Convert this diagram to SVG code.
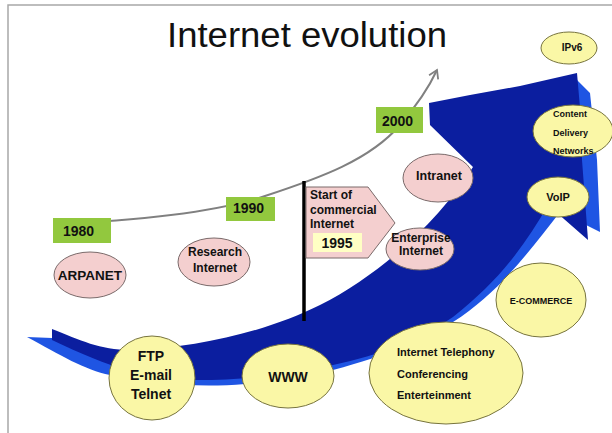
<svg xmlns="http://www.w3.org/2000/svg" width="612" height="433" viewBox="0 0 612 433">
<defs>
<style>
.t{font-family:"Liberation Sans",Arial,sans-serif;font-weight:bold;fill:#111}
.pink{fill:#F4CFCF;stroke:#7A6A6A;stroke-width:1}
.yel{fill:#FAF7A6;stroke:#77743E;stroke-width:1}
.grn{fill:#92C83E}
.m{text-anchor:middle}
</style>
<marker id="ah" markerWidth="12" markerHeight="12" refX="9" refY="6" orient="auto" markerUnits="userSpaceOnUse">
<path d="M1,1 L9,6 L1,11" fill="none" stroke="#808080" stroke-width="1.8"/>
</marker>
</defs>
<rect width="612" height="433" fill="#fff"/>
<path d="M8,433 L8,5 L612,5" fill="none" stroke="#A8A8A8" stroke-width="1.5"/>
<text x="167" y="47" font-family="Liberation Sans,Arial,sans-serif" font-size="35" textLength="280" lengthAdjust="spacingAndGlyphs" fill="#111">Internet evolution</text>

<g id="big-arrow">
<path d="M27,337 C60,355 85,370 110,375 C150,384 200,388 245,384 C290,380 320,374 333,370 C390,355 420,340 453,322 C500,292 530,250 560,212 L600,232 L597,160 L590,93 L577,80 L500,180 L400,280 L300,340 L200,360 L110,360 L52,338 Z" fill="#1F55E3"/>
<path d="M52,329 C80,340 100,350 130,350 C200,348 270,330 320,305 C380,275 440,220 473,167 L430,125 L429,103 L470,95 L520,86 L577,73 L580,108 L582,160 L588,240 L548,205 C525,245 500,280 453,317 C420,340 380,355 333,365 C290,375 240,380 197,380 C150,380 110,368 52,340 Z" fill="#0B1E9F"/>
</g>

<g id="connectors">
<path d="M53,224 C130,221 210,214 265,196 C320,178 370,160 400,125 C418,104 430,85 437,70" fill="none" stroke="#808080" stroke-width="2" marker-end="url(#ah)"/>
<line x1="304" y1="181" x2="304" y2="321" stroke="#000" stroke-width="3.5"/>
</g>

<g id="y1980"><rect class="grn" x="53" y="218" width="58" height="25"/><text class="t" x="63" y="236" font-size="14">1980</text></g>
<g id="y1990"><rect class="grn" x="226" y="197" width="49" height="24"/><text class="t" x="233" y="213" font-size="14">1990</text></g>
<g id="y2000"><rect class="grn" x="376" y="107" width="47" height="26"/><text class="t" x="382" y="126" font-size="14">2000</text></g>

<g id="arpanet"><ellipse class="pink" cx="90" cy="275" rx="36" ry="23"/><text class="t m" x="90" y="280" font-size="13.5">ARPANET</text></g>
<g id="research"><ellipse class="pink" cx="214" cy="262" rx="36" ry="24"/><text class="t m" x="215" y="256" font-size="12">Research</text><text class="t m" x="215" y="272" font-size="12">Internet</text></g>

<g id="commercial">
<path class="pink" d="M306,187 L368,187 L395,223 L368,258 L306,258 Z"/>
<text class="t" x="310" y="199" font-size="12">Start of</text>
<text class="t" x="310" y="214" font-size="12">commercial</text>
<text class="t" x="310" y="228" font-size="12">Internet</text>
<rect x="313" y="233" width="49" height="19" fill="#FFFFC4"/>
<text class="t" x="337" y="248" font-size="14" text-anchor="middle">1995</text>
</g>

<g id="intranet"><ellipse class="pink" cx="438" cy="178" rx="35" ry="24"/><text class="t m" x="439" y="180" font-size="12.5">Intranet</text></g>
<g id="enterprise"><ellipse class="pink" cx="420" cy="249" rx="34" ry="21"/><text class="t m" x="421" y="242" font-size="12">Enterprise</text><text class="t m" x="421" y="255" font-size="12">Internet</text></g>

<g id="ipv6"><ellipse class="yel" cx="569" cy="48" rx="28" ry="16"/><text class="t m" x="572" y="51" font-size="10">IPv6</text></g>
<g id="cdn"><ellipse class="yel" cx="573" cy="131" rx="40" ry="26"/>
<text class="t" x="553" y="117" font-size="9">Content</text>
<text class="t" x="553" y="136" font-size="9">Delivery</text>
<text class="t" x="553" y="154" font-size="9">Networks</text></g>
<g id="voip"><ellipse class="yel" cx="558" cy="197" rx="31" ry="20"/><text class="t m" x="558" y="201" font-size="11">VoIP</text></g>
<g id="ecommerce"><ellipse class="yel" cx="541" cy="300" rx="45" ry="37"/><text class="t m" x="541" y="304" font-size="9">E-COMMERCE</text></g>
<g id="ftp"><ellipse class="yel" cx="152" cy="378" rx="43" ry="42"/>
<text class="t m" x="151" y="361" font-size="14">FTP</text>
<text class="t m" x="151" y="380" font-size="14">E-mail</text>
<text class="t m" x="151" y="399" font-size="14">Telnet</text></g>
<g id="www"><ellipse class="yel" cx="288" cy="376" rx="46" ry="32"/><text class="t m" x="288" y="382" font-size="14">WWW</text></g>
<g id="telephony"><ellipse class="yel" cx="446" cy="373" rx="77" ry="51"/>
<text class="t" x="397" y="356" font-size="11">Internet Telephony</text>
<text class="t" x="397" y="378" font-size="11">Conferencing</text>
<text class="t" x="397" y="399" font-size="11">Enterteinment</text></g>
</svg>
